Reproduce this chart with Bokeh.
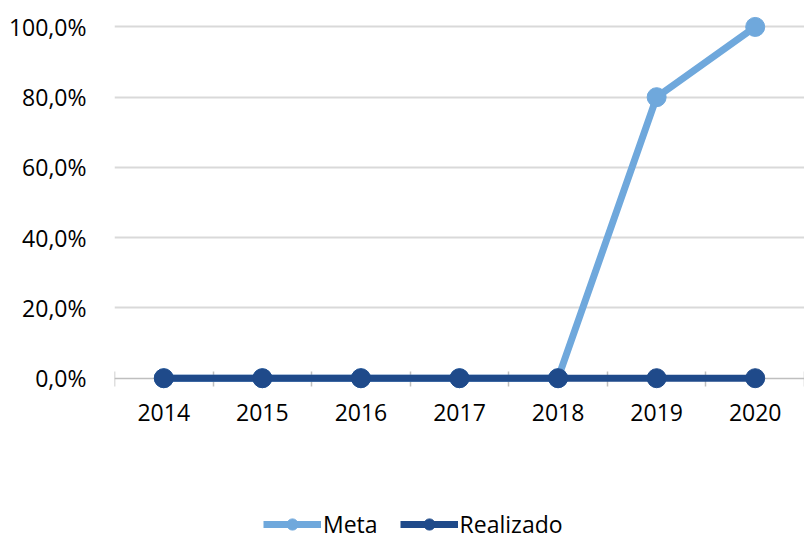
from bokeh.plotting import figure
from bokeh.models import ColumnDataSource, FixedTicker, Legend, LegendItem
from bokeh.embed import file_html
from bokeh.resources import INLINE

years = ["2014", "2015", "2016", "2017", "2018", "2019", "2020"]
meta = [0, 0, 0, 0, 0, 80, 100]
realizado = [0, 0, 0, 0, 0, 0, 0]
y_ticks = [0, 20, 40, 60, 80, 100]
y_tick_labels = ["0,0%", "20,0%", "40,0%", "60,0%", "80,0%", "100,0%"]

META_COLOR = "#6FA8DC"
REAL_COLOR = "#1F4A8A"
FONT = "Open Sans"
FS = "23px"

xs = list(range(len(years)))
src = ColumnDataSource(dict(x=xs, meta=meta, real=realizado))

p = figure(width=804, height=540, output_backend="svg", toolbar_location=None,
           x_range=(-0.5, len(years) - 0.5), y_range=(-46.2, 106.1),
           min_border_left=114, min_border_right=0, min_border_top=5, min_border_bottom=0)
p.outline_line_color = None

r1 = p.line("x", "meta", source=src, line_color=META_COLOR, line_width=7, level="overlay")
s1 = p.scatter("x", "meta", source=src, size=19, fill_color=META_COLOR, line_color=META_COLOR, level="overlay")
r2 = p.line("x", "real", source=src, line_color=REAL_COLOR, line_width=7, level="overlay")
s2 = p.scatter("x", "real", source=src, size=19, fill_color=REAL_COLOR, line_color=REAL_COLOR, level="overlay")

p.yaxis.ticker = FixedTicker(ticks=y_ticks)
p.yaxis.major_label_overrides = {t: l for t, l in zip(y_ticks, y_tick_labels)}
p.yaxis.axis_line_color = None
p.yaxis.major_tick_line_color = None
p.yaxis.minor_tick_line_color = None
p.yaxis.major_label_standoff = 22
p.yaxis.major_label_text_font = FONT
p.yaxis.major_label_text_font_size = FS
p.yaxis.major_label_text_color = "#000000"

p.ygrid.ticker = FixedTicker(ticks=y_ticks[1:])
p.ygrid.grid_line_color = "#D9D9D9"
p.ygrid.grid_line_width = 2
p.xgrid.grid_line_color = None

p.xaxis.fixed_location = 0
p.xaxis.ticker = FixedTicker(ticks=xs, minor_ticks=[i - 0.5 for i in range(len(years) + 1)])
p.xaxis.major_label_overrides = {i: y for i, y in enumerate(years)}
p.xaxis.axis_line_color = "#BFBFBF"
p.xaxis.axis_line_width = 1.5
p.xaxis.major_tick_line_color = None
p.xaxis.minor_tick_line_color = "#BFBFBF"
p.xaxis.minor_tick_line_width = 1.5
p.xaxis.minor_tick_in = 7
p.xaxis.minor_tick_out = 8
p.xaxis.major_label_standoff = 18
p.xaxis.major_label_text_font = FONT
p.xaxis.major_label_text_font_size = FS
p.xaxis.major_label_text_color = "#000000"

legend = Legend(items=[LegendItem(label="Meta", renderers=[r1, s1]),
                       LegendItem(label="Realizado", renderers=[r2, s2])],
                orientation="horizontal", location=(149, 0),
                label_text_font=FONT, label_text_font_size=FS, label_text_color="#000000",
                glyph_width=58, glyph_height=28, spacing=22, label_standoff=2,
                border_line_color=None, background_fill_alpha=0, margin=0, padding=0)
p.add_layout(legend)

open("out.html", "w").write(file_html(p, INLINE))
